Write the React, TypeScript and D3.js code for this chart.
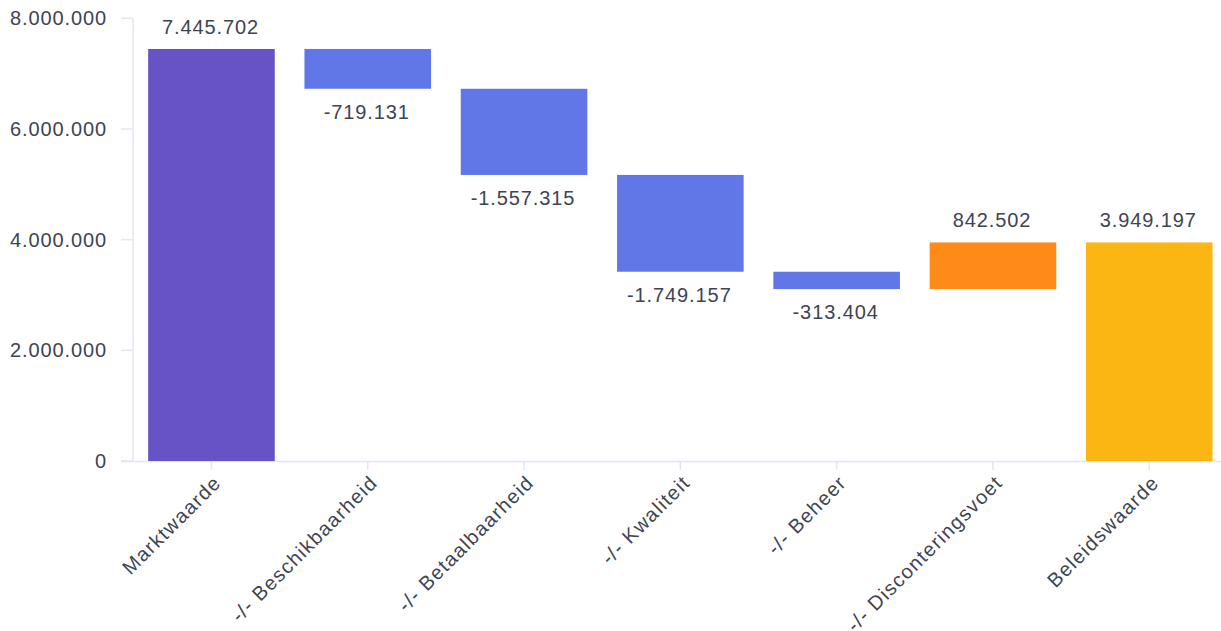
import React from "react";
import * as d3 from "d3";

const categories = [
  "Marktwaarde",
  "-/- Beschikbaarheid",
  "-/- Betaalbaarheid",
  "-/- Kwaliteit",
  "-/- Beheer",
  "-/- Disconteringsvoet",
  "Beleidswaarde",
];
const values = [7445702, -719131, -1557315, -1749157, -313404, 842502, 3949197];
const kinds = ["total", "delta", "delta", "delta", "delta", "delta", "total"];
const yTicks = [0, 2000000, 4000000, 6000000, 8000000];

const W = 1221;
const H = 631;
const FONT = "'Liberation Sans', Arial, Helvetica, sans-serif";
const TEXT = "#3e4453";
const AXIS = "#e3e6f1";

function fmt(v: number) {
  const s = Math.abs(Math.round(v)).toString().replace(/\B(?=(\d{3})+(?!\d))/g, ".");
  return (v < 0 ? "-" : "") + s;
}

export default function App() {
  const x = d3.scaleBand<string>().domain(categories).range([133.3, 1227.4]).paddingInner(0.19).paddingOuter(0.095);
  const y = d3.scaleLinear().domain([0, 8000000]).range([461, 18.3]);

  let running = 0;
  const bars = categories.map((c, i) => {
    const v = values[i];
    let y0: number, y1: number;
    if (kinds[i] === "total") {
      y0 = 0;
      y1 = v;
      running = v;
    } else {
      y0 = running;
      y1 = running + v;
      running = y1;
    }
    let color = "#6177e8";
    if (i === 0) color = "#6752c6";
    else if (kinds[i] === "total") color = "#fbb614";
    else if (v > 0) color = "#fe8a18";
    return { c, v, y0, y1, color };
  });

  return (
    <svg width={W} height={H} style={{ position: "absolute", left: 0, top: 0, fontFamily: FONT }}>
      {/* y axis */}
      <line x1={133} x2={133} y1={y(8000000)} y2={461} stroke={AXIS} strokeWidth={1.5} />
      {yTicks.map((t) => (
        <g key={t}>
          <line x1={121} x2={133} y1={y(t)} y2={y(t)} stroke={AXIS} strokeWidth={1.5} />
          <text x={107} y={y(t)} dy="0.35em" textAnchor="end" fontSize={20} letterSpacing={0.9} fill={TEXT}>
            {fmt(t)}
          </text>
        </g>
      ))}
      {/* x axis */}
      <line x1={121} x2={W} y1={461.5} y2={461.5} stroke={AXIS} strokeWidth={1.5} />
      {categories.map((c) => {
        const cx = (x(c) as number) + x.bandwidth() / 2;
        return (
          <g key={c}>
            <line x1={cx} x2={cx} y1={461} y2={470} stroke={AXIS} strokeWidth={1.5} />
            <text
              transform={`translate(${cx + 6},${479}) rotate(-45)`}
              textAnchor="end"
              dy="0.35em"
              fontSize={20}
              letterSpacing={1.3}
              fill={TEXT}
            >
              {c}
            </text>
          </g>
        );
      })}
      {/* bars */}
      {bars.map((b) => {
        const top = y(Math.max(b.y0, b.y1));
        const bot = y(Math.min(b.y0, b.y1));
        const bx = x(b.c) as number;
        const cx = bx + x.bandwidth() / 2;
        return (
          <g key={b.c}>
            <rect x={bx} y={top} width={x.bandwidth()} height={bot - top} fill={b.color} />
            {b.v >= 0 ? (
              <text x={cx - 1} y={top - 15} textAnchor="middle" fontSize={20} letterSpacing={0.9} fill={TEXT}>
                {fmt(b.v)}
              </text>
            ) : (
              <text x={cx - 1} y={bot + 30} textAnchor="middle" fontSize={20} letterSpacing={0.9} fill={TEXT}>
                {fmt(b.v)}
              </text>
            )}
          </g>
        );
      })}
    </svg>
  );
}
